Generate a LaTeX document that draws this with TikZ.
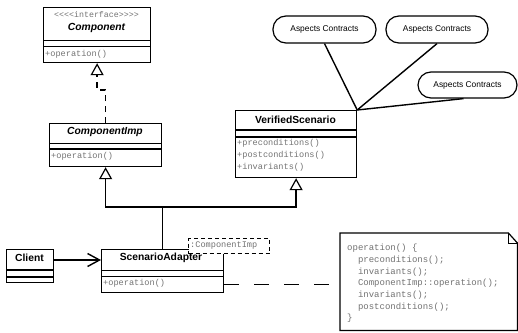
\documentclass[tikz,border=0pt]{standalone}
\usepackage{fontspec}
\setmainfont{Liberation Sans}
\setmonofont{Liberation Mono}
\usetikzlibrary{arrows.meta,calc}
\begin{document}
\begin{tikzpicture}[x=1pt,y=-1pt,
  box/.style={draw, line width=1.2pt, inner sep=0pt, anchor=north west},
  sepl/.style={line width=1.1pt},
  cname/.style={font=\fontsize{10.3}{12}\selectfont\bfseries, inner sep=0pt},
  iname/.style={font=\fontsize{10.3}{12}\selectfont\bfseries\itshape, inner sep=0pt},
  opt/.style={font=\fontsize{8.6}{10}\selectfont\ttfamily, text=black!55, anchor=west, inner sep=0pt},
  stadium/.style={draw, line width=1.2pt, rounded corners=13pt, inner sep=0pt,
    font=\fontsize{8.4}{10}\selectfont},
  conn/.style={line width=1.4pt},
  gentip/.tip={Triangle[length=12pt,width=13pt,fill=white,line width=1.2pt]}
]
\useasboundingbox (0,0) rectangle (518,332);

% Component
\node[box, minimum width=107pt, minimum height=55pt] (comp) at (43,7) {};
\draw[sepl] (43,40.5) -- (150,40.5);
\draw[sepl] (43,46.7) -- (150,46.7);
\node[font=\fontsize{8.3}{10}\selectfont\ttfamily, text=black!55, inner sep=0pt] at (96.5,15) {<<<<interface>>>>};
\node[iname] at (96.5,27.5) {Component};
\node[opt] at (45,54) {+operation()};

% ComponentImp
\node[box, minimum width=112pt, minimum height=43pt] (cimp) at (49,123) {};
\draw[sepl] (49,143.5) -- (161,143.5);
\draw[sepl] (49,149) -- (161,149);
\node[iname] at (105,131.5) {ComponentImp};
\node[opt] at (51,156) {+operation()};

% VerifiedScenario
\node[box, minimum width=121pt, minimum height=67pt] (vs) at (235,110) {};
\draw[sepl] (235,130) -- (356,130);
\draw[sepl] (235,137) -- (356,137);
\node[cname] at (295.5,119.5) {VerifiedScenario};
\node[opt] at (237,143.5) {+preconditions()};
\node[opt] at (237,155.5) {+postconditions()};
\node[opt] at (237,167) {+invariants()};

% Client
\node[box, minimum width=47pt, minimum height=33pt] (client) at (6,249) {};
\draw[sepl] (6,270) -- (53,270);
\draw[sepl] (6,277) -- (53,277);
\node[cname] at (29.5,257.5) {Client};

% ScenarioAdapter
\node[box, minimum width=122pt, minimum height=43pt] (sa) at (101,249) {};
\draw[sepl] (101,270.5) -- (223,270.5);
\draw[sepl] (101,276.7) -- (223,276.7);
\node[cname] at (161,257.5) {ScenarioAdapter};
\node[opt] at (103,283.5) {+operation()};

% :ComponentImp role box
\node[box, dashed, dash pattern=on 4pt off 3pt, fill=white, minimum width=81pt, minimum height=15pt] (role) at (188,238) {};
\node[opt] at (190,245.5) {:ComponentImp};

% Aspects Contracts
\node[stadium, minimum width=103pt, minimum height=27pt] (a1) at (324.5,29.5) {Aspects Contracts};
\node[stadium, minimum width=102pt, minimum height=27pt] (a2) at (437,29.5) {Aspects Contracts};
\node[stadium, minimum width=99pt, minimum height=26pt] (a3) at (467.5,85) {Aspects Contracts};

% Note
\node[inner sep=0pt, minimum width=177pt, minimum height=97pt, anchor=north west] (note) at (340,233) {};
\draw[line width=1.2pt, fill=white] (note.north west) -- ($(note.north east)+(-9,0)$) -- ($(note.north east)+(0,10)$) -- (note.south east) -- (note.south west) -- cycle;
\draw[line width=1.0pt] ($(note.north east)+(-9,0)$) -- ($(note.north east)+(-9,10)$) -- ($(note.north east)+(0,10)$);
\node[anchor=north west, align=left, inner sep=0pt, text=black!55,
  font=\fontsize{9}{11.7}\selectfont\ttfamily] (notetext) at (347,244)
  {operation() \{\\
   \phantom{xx}preconditions();\\
   \phantom{xx}invariants();\\
   \phantom{xx}ComponentImp::operation();\\
   \phantom{xx}invariants();\\
   \phantom{xx}postconditions();\\
   \}};

% connectors
\draw[conn, dash pattern=on 6pt off 5pt, -gentip] (cimp.north) -- ++(0,-33) -| (comp.south);
\draw[conn] (sa.north) -- ++(0,-42) coordinate (bar);
\draw[conn, -gentip] (bar) -| (cimp.south);
\draw[conn, -gentip] (bar) -| (vs.south);
\draw[conn, -{Straight Barb[length=12pt,width=13pt]}] ($(client.north east)+(0,11)$) -- ($(sa.north west)+(0,11)$);
\coordinate (d0) at ($(sa.south east)+(0,-9)$);
\draw[conn, dash pattern=on 15pt off 15pt] (d0) -- (note.west |- d0);
\draw[conn] (a1.south) -- (vs.north east);
\draw[conn] (a2.south) -- (vs.north east);
\draw[conn] ($(a3.south)+(-4,0)$) -- (vs.north east);
\end{tikzpicture}
\end{document}
